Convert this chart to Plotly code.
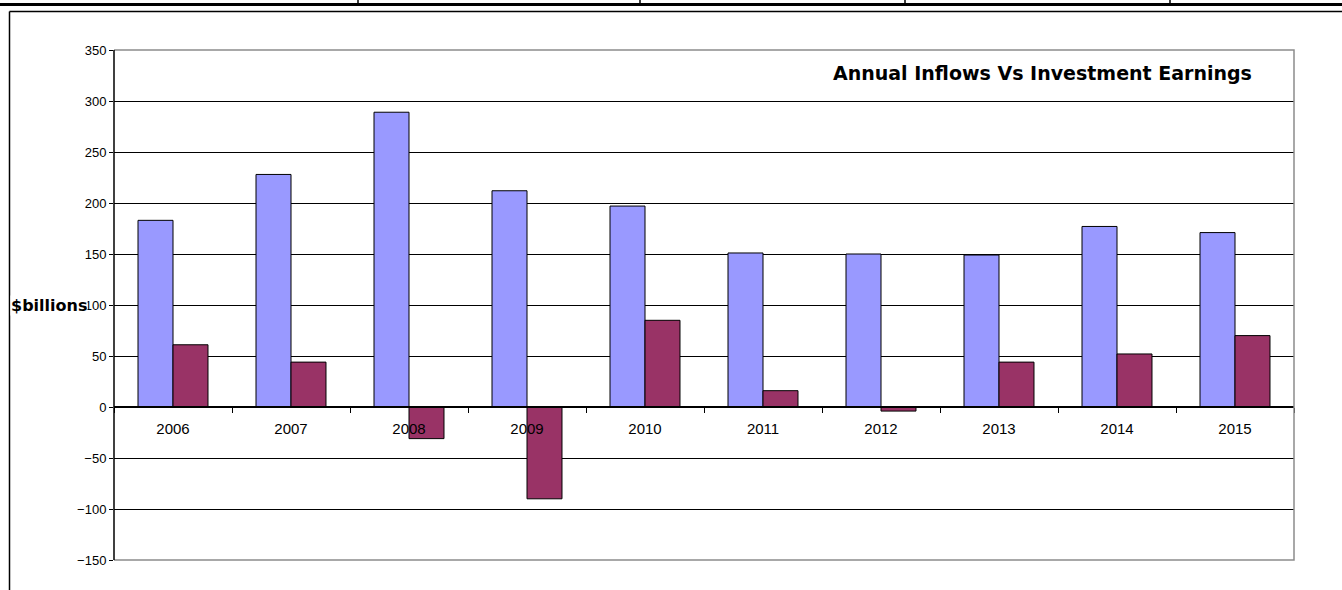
import plotly.graph_objects as go

years = ["2006", "2007", "2008", "2009", "2010", "2011", "2012", "2013", "2014", "2015"]
inflows = [183, 228, 289, 212, 197, 151, 150, 149, 177, 171]
earnings = [61, 44, -31, -90, 85, 16, -4, 44, 52, 70]
y_ticks = [-150, -100, -50, 0, 50, 100, 150, 200, 250, 300, 350]

W, H = 1342, 590
L, R, T, B = 114, 1294, 50, 560


def px(x):
    return (x - L) / (R - L)


def py(y):
    return (B - y) / (B - T)


fig = go.Figure()
fig.add_trace(go.Bar(x=years, y=inflows, name="Annual Inflows",
                     marker=dict(color="#9999FF", line=dict(color="#000000", width=1))))
fig.add_trace(go.Bar(x=years, y=earnings, name="Investment Earnings",
                     marker=dict(color="#993366", line=dict(color="#000000", width=1))))

shapes = [
    dict(type="path", xref="paper", yref="paper",
         path="M 0,1 L 1,1 L 1,0 L 0,0", line=dict(color="#8c8c8c", width=1.5), layer="above"),
    dict(type="line", xref="paper", yref="paper", x0=0, x1=0, y0=0, y1=1,
         line=dict(color="#000000", width=1.5), layer="above"),
    dict(type="line", xref="paper", yref="paper", x0=px(9.5), x1=px(1342), y0=py(11.5), y1=py(11.5),
         line=dict(color="#000000", width=1.5)),
    dict(type="line", xref="paper", yref="paper", x0=px(9.5), x1=px(9.5), y0=py(11.5), y1=py(590),
         line=dict(color="#000000", width=1.5)),
    dict(type="line", xref="paper", yref="paper", x0=px(0), x1=px(1342), y0=py(4.5), y1=py(4.5),
         line=dict(color="#000000", width=3)),
]
for vx in [358, 640, 905, 1170]:
    shapes.append(dict(type="line", xref="paper", yref="paper", x0=px(vx), x1=px(vx),
                       y0=py(0), y1=py(5), line=dict(color="#000000", width=1.5)))

fig.update_layout(
    width=W, height=H,
    margin=dict(l=L, r=W - R, t=T, b=H - B, pad=0),
    paper_bgcolor="white", plot_bgcolor="white",
    showlegend=False,
    barmode="group", bargap=0.407, bargroupgap=0,
    font=dict(family="Liberation Sans, Arial, sans-serif", color="#000000"),
    xaxis=dict(
        type="category", anchor="free", position=0.3,
        showline=True, linecolor="#000000", linewidth=1.5,
        ticks="outside", ticklen=5, tickcolor="#000000", tickwidth=1,
        tickson="boundaries", showgrid=False,
        tickfont=dict(size=15, color="#000000"), ticklabelstandoff=8,
    ),
    yaxis=dict(
        range=[-150, 350], tickvals=y_ticks,
        showgrid=True, gridcolor="#000000", gridwidth=1,
        zeroline=True, zerolinecolor="#000000", zerolinewidth=1.5,
        showline=False,
        ticks="outside", ticklen=4, tickcolor="#000000",
        tickfont=dict(size=13, color="#000000"),
    ),
    shapes=shapes,
    annotations=[
        dict(text="<b>Annual Inflows Vs Investment Earnings</b>", xref="paper", yref="paper",
             x=px(1254), y=py(73), xanchor="right", yanchor="middle", showarrow=False,
             font=dict(size=19, color="#000000", family="DejaVu Sans, Arial, sans-serif")),
        dict(text="<b>$billions</b>", xref="paper", yref="paper",
             x=px(10), y=py(305), xanchor="left", yanchor="middle", showarrow=False,
             font=dict(size=16, color="#000000", family="DejaVu Sans, Arial, sans-serif"),
             bgcolor="white", borderpad=0),
    ],
)

fig.write_html("out.html", post_script="document.body.style.margin='0';",
               config={"displayModeBar": False})
